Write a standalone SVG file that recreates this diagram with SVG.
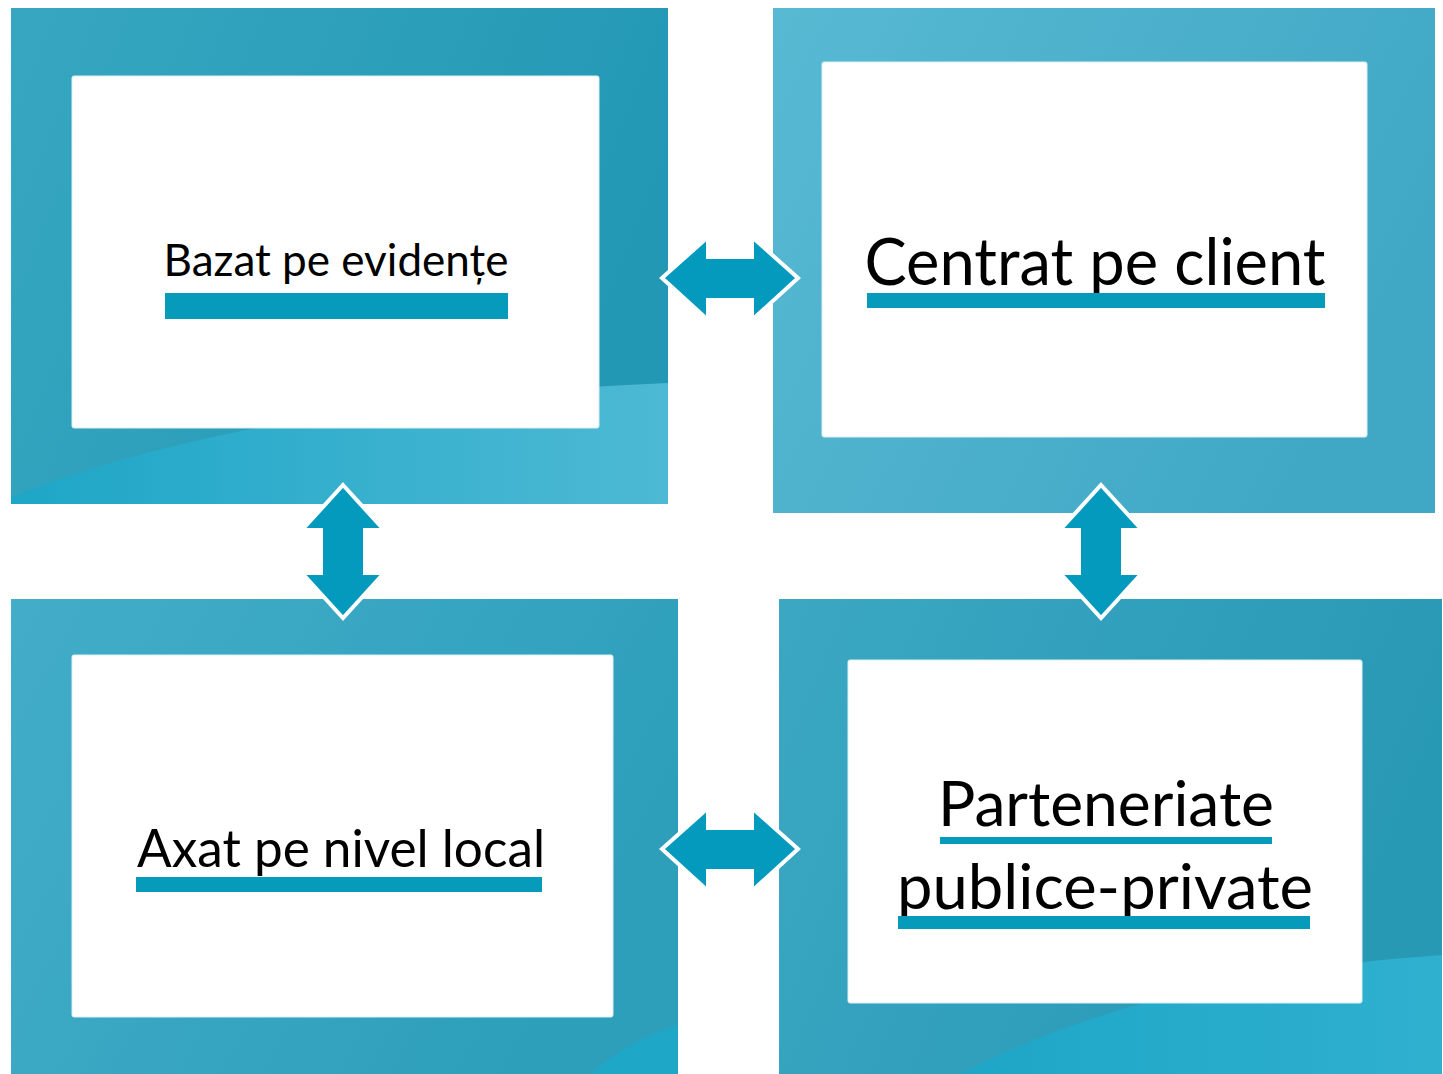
<svg xmlns="http://www.w3.org/2000/svg" width="1443" height="1074" viewBox="0 0 1443 1074">
<style>
.inner{fill:#ffffff;stroke:#dbeef3;stroke-width:1}
.lbl{font-family:Lato,"PT Sans","Open Sans",sans-serif;fill:#000000}
.bar{fill:#069bba}
.arrow{fill:#039abd;stroke:#ffffff;stroke-width:4;stroke-linejoin:miter}
</style>
<defs>
<linearGradient id="gTL" x1="0" y1="0" x2="1" y2="0.3">
<stop offset="0" stop-color="#37a7c1"/>
<stop offset="1" stop-color="#2398b4"/>
</linearGradient>
<linearGradient id="gTLh" x1="0" y1="0" x2="1" y2="0">
<stop offset="0" stop-color="#1ea6c7"/>
<stop offset="1" stop-color="#4db9d4"/>
</linearGradient>
<linearGradient id="gTR" x1="0" y1="0" x2="1" y2="0.4">
<stop offset="0" stop-color="#58b9d3"/>
<stop offset="1" stop-color="#40a8c5"/>
</linearGradient>
<linearGradient id="gBL" x1="0" y1="0" x2="1" y2="0.4">
<stop offset="0" stop-color="#43adc9"/>
<stop offset="1" stop-color="#2d9fbb"/>
</linearGradient>
<linearGradient id="gBR" x1="0" y1="0" x2="1" y2="0.3">
<stop offset="0" stop-color="#3ba7c3"/>
<stop offset="1" stop-color="#2899b5"/>
</linearGradient>
<linearGradient id="gBRh" x1="0" y1="0" x2="1" y2="0">
<stop offset="0" stop-color="#1ea6c7"/>
<stop offset="1" stop-color="#2fb0cf"/>
</linearGradient>
</defs>

<g id="node-bazat">
<rect x="11" y="8" width="657" height="496" fill="url(#gTL)"/>
<path d="M11,504 L11,497 Q260,400 668,383 L668,504 Z" fill="url(#gTLh)"/>
<rect class="inner" x="72" y="76" width="527" height="352" rx="2"/>
<text class="lbl" x="336" y="276" font-size="44" text-anchor="middle" textLength="345" lengthAdjust="spacingAndGlyphs">Bazat pe evidențe</text>
<rect class="bar" x="165" y="293" width="343" height="26"/>
</g>

<g id="node-centrat">
<rect x="773" y="8" width="662" height="505" fill="url(#gTR)"/>
<rect class="inner" x="822" y="62" width="545" height="375" rx="2"/>
<text class="lbl" x="1095" y="285" font-size="66" text-anchor="middle" textLength="461" lengthAdjust="spacingAndGlyphs">Centrat pe client</text>
<rect class="bar" x="867" y="293" width="458" height="15"/>
</g>

<g id="node-axat">
<rect x="11" y="599" width="667" height="475" fill="url(#gBL)"/>
<path d="M590,1074 Q630,1040 678,1025 L678,1074 Z" fill="#1fa7c8"/>
<rect class="inner" x="72" y="655" width="541" height="362" rx="2"/>
<text class="lbl" x="341" y="867" font-size="52" text-anchor="middle" textLength="408" lengthAdjust="spacingAndGlyphs">Axat pe nivel local</text>
<rect class="bar" x="136" y="877" width="406" height="15"/>
</g>

<g id="node-parteneriate">
<rect x="779" y="599" width="663" height="475" fill="url(#gBR)"/>
<path d="M960,1074 Q1150,975 1442,955 L1442,1074 Z" fill="url(#gBRh)"/>
<rect class="inner" x="848" y="660" width="514" height="343" rx="2"/>
<text class="lbl" x="1106" y="826" font-size="62" text-anchor="middle" textLength="336" lengthAdjust="spacingAndGlyphs">Parteneriate</text>
<rect class="bar" x="940" y="837" width="332" height="7"/>
<text class="lbl" x="1105" y="909" font-size="62" text-anchor="middle" textLength="416" lengthAdjust="spacingAndGlyphs">publice-private</text>
<rect class="bar" x="898" y="916" width="412" height="13"/>
</g>

<g id="connectors">
<path class="arrow" d="M662,278 L708,237 L708,257 L752,257 L752,237 L798,278 L752,320 L752,300 L708,300 L708,320 Z"/>
<path class="arrow" d="M662,849 L708,808 L708,828 L752,828 L752,808 L798,849 L752,891 L752,871 L708,871 L708,891 Z"/>
<path class="arrow" d="M343,485 L384,530 L365,530 L365,573 L384,573 L343,618 L302,573 L321,573 L321,530 L302,530 Z"/>
<path class="arrow" d="M1101,485 L1142,530 L1123,530 L1123,573 L1142,573 L1101,618 L1060,573 L1079,573 L1079,530 L1060,530 Z"/>
</g>
</svg>
